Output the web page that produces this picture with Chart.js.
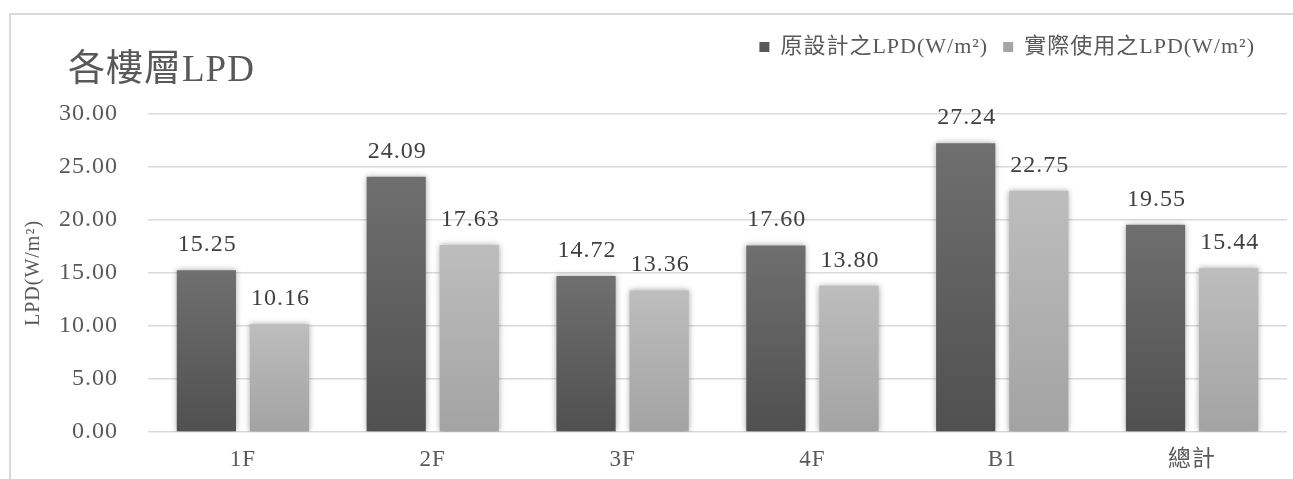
<!DOCTYPE html>
<html lang="zh-Hant">
<head>
<meta charset="UTF-8">
<title>各樓層LPD</title>
<script src="https://cdn.jsdelivr.net/npm/chart.js"></script>
<style>
    html, body { margin: 0; padding: 0; background: #fff; }
    .wrap { width: 1293px; height: 479px; }
</style>
</head>
<body>
<div class="wrap"><canvas id="chartLPD"></canvas></div>
<script>
    // 各樓層照明功率密度
    const floors = ['1F', '2F', '3F', '4F', 'B1', '總計'];
    const designLPD = [15.25, 24.09, 14.72, 17.60, 27.24, 19.55];
    const actualLPD = [10.16, 17.63, 13.36, 13.80, 22.75, 15.44];
    const seriesNames = ['原設計之LPD(W/m²)', '實際使用之LPD(W/m²)'];
    const yMin = 0, yMax = 30, yStep = 5;

    const FONT = "'Liberation Serif', 'Noto Sans CJK TC', serif";
    const TEXT = '#595959';

    // 每根柱子由上而下的漸層
    function barGradient(top, bottom) {
        return (ctx) => {
            const chart = ctx.chart;
            const y = chart.scales && chart.scales.y;
            if (!chart.chartArea || !y || ctx.raw === undefined) return bottom;
            const g = chart.ctx.createLinearGradient(0, y.getPixelForValue(ctx.raw), 0, y.getPixelForValue(0));
            g.addColorStop(0, top);
            g.addColorStop(1, bottom);
            return g;
        };
    }

    const spacing = {
        id: 'spacing',
        beforeLayout(chart) { chart.ctx.letterSpacing = '1px'; },
        beforeDraw(chart) { chart.ctx.letterSpacing = '1px'; }
    };

    // 外框 + 標題
    const frame = {
        id: 'frame',
        beforeDraw(chart) {
            const c = chart.ctx;
            c.save();
            c.strokeStyle = '#d9d9d9';
            c.lineWidth = 2;
            c.beginPath();
            c.moveTo(10, chart.height);
            c.lineTo(10, 14);
            c.lineTo(chart.width, 14);
            c.stroke();
            c.fillStyle = TEXT;
            c.font = '37px ' + FONT;
            c.textBaseline = 'middle';
            c.fillText('各樓層LPD', 68, 71);
            c.restore();
        }
    };

    const legendSpace = {
        id: 'legendSpace',
        beforeInit(chart) {
            const fit = chart.legend.fit;
            chart.legend.fit = function () {
                fit.call(this);
                this.height = 93;
            };
        },
        afterLayout(chart) {
            chart.legend.right -= 17;
        }
    };

    const barShadow = {
        id: 'barShadow',
        beforeDatasetsDraw(chart) {
            const c = chart.ctx;
            c.save();
            c.shadowColor = 'rgba(0,0,0,0.35)';
            c.shadowBlur = 6;
        },
        afterDatasetsDraw(chart) {
            chart.ctx.restore();
        }
    };

    // 數值標籤
    const valueLabels = {
        id: 'valueLabels',
        afterDatasetsDraw(chart) {
            const c = chart.ctx;
            c.save();
            c.font = '24px ' + FONT;
            c.fillStyle = '#404040';
            c.textAlign = 'center';
            c.textBaseline = 'alphabetic';
            chart.data.datasets.forEach((ds, i) => {
                chart.getDatasetMeta(i).data.forEach((bar, j) => {
                    c.fillText(ds.data[j].toFixed(2), bar.x + 1, bar.y - 19);
                });
            });
            c.restore();
        }
    };

    new Chart(document.getElementById('chartLPD'), {
        type: 'bar',
        data: {
            labels: floors,
            datasets: [{
                label: seriesNames[0],
                data: designLPD,
                backgroundColor: barGradient('#6f6f6f', '#505050'),
                legendColor: '#595959'
            }, {
                label: seriesNames[1],
                data: actualLPD,
                backgroundColor: barGradient('#bdbdbd', '#a3a3a3'),
                legendColor: '#a5a5a5'
            }]
        },
        options: {
            responsive: true,
            maintainAspectRatio: false,
            animation: false,
            categoryPercentage: 0.77,
            barPercentage: 0.81,
            layout: { padding: { top: 21, left: 22, right: 6, bottom: 6 } },
            plugins: {
                title: { display: false },
                tooltip: { enabled: false },
                legend: {
                    position: 'top',
                    align: 'end',
                    labels: {
                        color: TEXT,
                        font: { family: FONT, size: 22 },
                        boxWidth: 10,
                        boxHeight: 10,
                        padding: 15,
                        generateLabels(chart) {
                            return chart.data.datasets.map((ds, i) => ({
                                text: ds.label,
                                fillStyle: ds.legendColor,
                                strokeStyle: ds.legendColor,
                                lineWidth: 0,
                                fontColor: TEXT,
                                datasetIndex: i
                            }));
                        }
                    }
                }
            },
            scales: {
                x: {
                    afterFit(scale) { scale.height = 41; },
                    grid: { display: false, drawTicks: false },
                    border: { display: false },
                    ticks: { color: TEXT, font: { family: FONT, size: 23 }, padding: 14 }
                },
                y: {
                    min: yMin,
                    max: yMax,
                    afterFit(scale) { scale.width = 126; },
                    grid: { color: '#d9d9d9', lineWidth: 1.5, drawTicks: false },
                    border: { display: false },
                    ticks: {
                        stepSize: yStep,
                        color: TEXT,
                        font: { family: FONT, size: 24 },
                        padding: 30,
                        callback: v => v.toFixed(2)
                    },
                    title: {
                        display: true,
                        text: 'LPD(W/m²)',
                        color: TEXT,
                        font: { family: FONT, size: 20 },
                        padding: { top: 0, bottom: 14 }
                    }
                }
            }
        },
        plugins: [spacing, frame, legendSpace, barShadow, valueLabels]
    });
</script>
</body>
</html>
